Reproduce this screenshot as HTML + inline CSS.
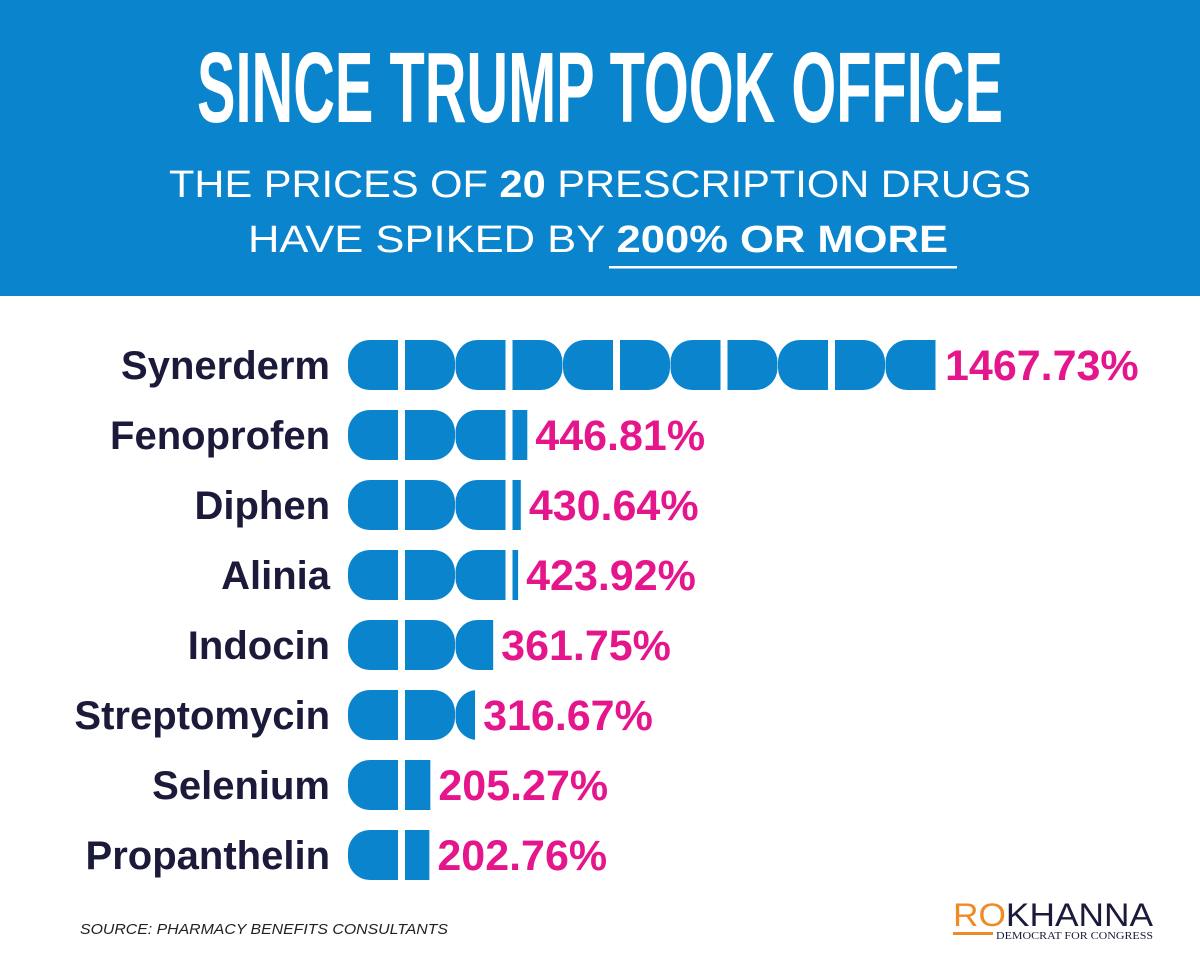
<!DOCTYPE html>
<html><head><meta charset="utf-8"><style>
html,body{margin:0;padding:0;background:#fff}
svg{display:block}
</style></head><body>
<svg id="chart" width="1200" height="970" viewBox="0 0 1200 970" xmlns="http://www.w3.org/2000/svg">
<rect x="0" y="0" width="1200" height="296" fill="#0a84cc"/>
<text x="600" y="122" text-anchor="middle" fill="#fff" font-family="Liberation Sans, sans-serif" font-weight="bold" font-size="100" textLength="806" lengthAdjust="spacingAndGlyphs">SINCE TRUMP TOOK OFFICE</text>
<text x="600" y="197" text-anchor="middle" fill="#fff" font-family="Liberation Sans, sans-serif" font-size="38" textLength="862" lengthAdjust="spacingAndGlyphs">THE PRICES OF <tspan font-weight="bold">20</tspan> PRESCRIPTION DRUGS</text>
<text x="598" y="252" text-anchor="middle" fill="#fff" font-family="Liberation Sans, sans-serif" font-size="38" textLength="700" lengthAdjust="spacingAndGlyphs">HAVE SPIKED BY <tspan font-weight="bold">200% OR MORE</tspan></text>
<rect x="609" y="266" width="348" height="2.5" fill="#fff"/>
<g id="bars"></g>
<text x="80" y="934" fill="#222" font-family="Liberation Sans, sans-serif" font-style="italic" font-size="15" textLength="368" lengthAdjust="spacingAndGlyphs">SOURCE: PHARMACY BENEFITS CONSULTANTS</text>
<g>
<text x="953" y="926" font-family="Liberation Sans, sans-serif" font-size="32" textLength="200" lengthAdjust="spacingAndGlyphs"><tspan fill="#f08a24">RO</tspan><tspan fill="#1b1a3a">KHANNA</tspan></text>
<rect x="953" y="932" width="40" height="3" fill="#f08a24"/>
<text x="996" y="939" fill="#1b1a3a" font-family="Liberation Serif, serif" font-size="11" textLength="157" lengthAdjust="spacingAndGlyphs">DEMOCRAT FOR CONGRESS</text>
</g>
</svg>
<script>
const drugs = ["Synerderm","Fenoprofen","Diphen","Alinia","Indocin","Streptomycin","Selenium","Propanthelin"];
const increases = [1467.73,446.81,430.64,423.92,361.75,316.67,205.27,202.76];
const valueLabels = ["1467.73%","446.81%","430.64%","423.92%","361.75%","316.67%","205.27%","202.76%"];

const NS="http://www.w3.org/2000/svg";
const x0=348, scale=589/1467.73;
const xScale=v=>v*scale;
const yCenter=i=>365+70*i;
const H=50, pillW=107.5, rad=22;
const g=document.getElementById('bars');
const defs=document.createElementNS(NS,'defs');
document.getElementById('chart').appendChild(defs);

drugs.forEach((name,i)=>{
  const cy=yCenter(i), top=cy-H/2;
  const end=x0+xScale(increases[i]);
  const lab=document.createElementNS(NS,'text');
  
  
  lab.setAttribute('x',330);lab.setAttribute('y',cy+14);
  lab.setAttribute('text-anchor','end');lab.setAttribute('fill','#1b1a3a');
  lab.setAttribute('font-family','Liberation Sans, sans-serif');lab.setAttribute('font-weight','bold');lab.setAttribute('font-size','40');
  lab.textContent=name;g.appendChild(lab);

  const cp=document.createElementNS(NS,'clipPath');cp.setAttribute('id','clip'+i);
  const cr=document.createElementNS(NS,'rect');
  cr.setAttribute('x',x0-1);cr.setAttribute('y',top-1);cr.setAttribute('width',end-x0+1);cr.setAttribute('height',H+2);
  cp.appendChild(cr);defs.appendChild(cp);

  const bar=document.createElementNS(NS,'g');
  
  
  bar.setAttribute('clip-path','url(#clip'+i+')');
  const n=Math.ceil((end-x0)/pillW);
  for(let k=0;k<n;k++){
    const px=x0+pillW*k;
    const p=document.createElementNS(NS,'rect');
    
    
    p.setAttribute('x',px);p.setAttribute('y',top);
    p.setAttribute('width',pillW-0.5);p.setAttribute('height',H);
    p.setAttribute('rx',rad);p.setAttribute('fill','#0a84cc');
    bar.appendChild(p);
    const s=document.createElementNS(NS,'rect');
    
    
    s.setAttribute('x',px+50);s.setAttribute('y',top-1);
    s.setAttribute('width',7);s.setAttribute('height',H+2);
    s.setAttribute('fill','#fff');
    bar.appendChild(s);
  }
  g.appendChild(bar);

  const v=document.createElementNS(NS,'text');
  
  
  v.setAttribute('x',end+8);v.setAttribute('y',cy+15);
  v.setAttribute('fill','#e5168b');v.setAttribute('font-family','Liberation Sans, sans-serif');
  v.setAttribute('font-weight','bold');v.setAttribute('font-size','43');
  v.textContent=valueLabels[i];g.appendChild(v);
});
</script>
</body></html>
